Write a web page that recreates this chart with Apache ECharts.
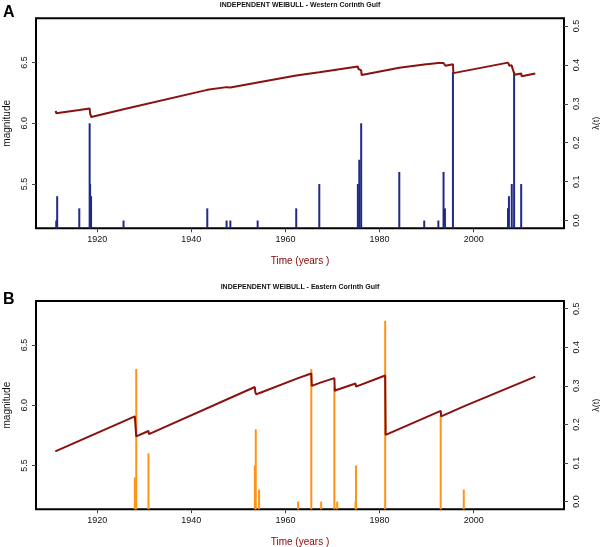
<!DOCTYPE html>
<html>
<head>
<meta charset="utf-8">
<script src="https://cdn.jsdelivr.net/npm/echarts@6/dist/echarts.min.js"></script>
<style>html,body{margin:0;padding:0;background:#fff}#c{width:600px;height:547px}</style>
</head>
<body>
<div id="c"></div>
<script>
// ---- Data ----
const xTicks = [1920, 1940, 1960, 1980, 2000];
const magTicks = [5.5, 6.0, 6.5];
const lambdaTicks = [0.0, 0.1, 0.2, 0.3, 0.4, 0.5];

// Panel A: Western Corinth Gulf
const eventYearsA = [1911.3, 1911.5, 1916.2, 1918.4, 1918.5, 1918.7, 1925.6, 1943.4, 1947.5, 1948.3, 1954.1, 1962.3, 1967.2, 1975.4, 1975.7, 1976.1, 1984.2, 1989.5, 1992.5, 1993.6, 1993.9, 1995.6, 2007.3, 2007.5, 2008.1, 2008.6, 2010.1];
const eventMagA   = [5.2, 5.4, 5.3, 6.0, 5.5, 5.4, 5.2, 5.3, 5.2, 5.2, 5.2, 5.3, 5.5, 5.5, 5.7, 6.0, 5.6, 5.2, 5.2, 5.6, 5.3, 6.42, 5.3, 5.4, 5.5, 6.42, 5.5];
const lambdaYearsA = [1911.2, 1911.3, 1911.5, 1916.2, 1916.3, 1918.4, 1918.5, 1918.7, 1918.75, 1925.6, 1925.7, 1943.4, 1943.5, 1947.5, 1947.6, 1948.3, 1948.4, 1954.1, 1954.2, 1962.3, 1962.4, 1967.2, 1967.3, 1975.4, 1975.5, 1975.7, 1975.8, 1976.1, 1976.2, 1984.2, 1984.3, 1989.5, 1989.6, 1992.5, 1992.6, 1993.6, 1993.7, 1993.9, 1994.0, 1995.6, 1995.7, 2007.3, 2007.4, 2007.5, 2007.6, 2008.1, 2008.2, 2008.6, 2008.7, 2010.1, 2010.2, 2013.1];
const lambdaValsA  = [0.282, 0.276, 0.271, 0.284, 0.281, 0.288, 0.275, 0.272, 0.266, 0.286, 0.283, 0.336, 0.331, 0.343, 0.340, 0.342, 0.339, 0.355, 0.352, 0.373, 0.368, 0.381, 0.376, 0.396, 0.390, 0.391, 0.385, 0.386, 0.374, 0.393, 0.389, 0.401, 0.398, 0.405, 0.402, 0.405, 0.400, 0.400, 0.398, 0.402, 0.379, 0.406, 0.402, 0.402, 0.398, 0.399, 0.393, 0.394, 0.375, 0.378, 0.371, 0.378];

// Panel B: Eastern Corinth Gulf
const eventYearsB = [1928.0, 1928.3, 1930.9, 1953.5, 1953.7, 1954.4, 1962.7, 1965.5, 1967.6, 1970.4, 1971.0, 1974.9, 1975.0, 1981.2, 1993.0, 1997.9];
const eventMagB   = [5.4, 6.3, 5.6, 5.5, 5.8, 5.3, 5.2, 6.3, 5.2, 6.15, 5.2, 5.2, 5.5, 6.7, 5.92, 5.3];
const lambdaYearsB = [1911.1, 1928.0, 1928.3, 1930.9, 1931.0, 1953.5, 1953.6, 1953.7, 1953.8, 1954.4, 1954.5, 1962.7, 1962.8, 1965.5, 1965.6, 1967.6, 1967.7, 1970.4, 1970.5, 1971.0, 1971.1, 1974.9, 1975.0, 1975.05, 1981.2, 1981.3, 1993.0, 1993.1, 1997.9, 1998.0, 2013.1];
const lambdaValsB  = [0.130, 0.221, 0.169, 0.183, 0.175, 0.297, 0.284, 0.285, 0.278, 0.281, 0.276, 0.320, 0.317, 0.332, 0.300, 0.309, 0.305, 0.320, 0.287, 0.290, 0.285, 0.306, 0.298, 0.293, 0.327, 0.173, 0.235, 0.221, 0.247, 0.242, 0.324];

const titleA = 'INDEPENDENT WEIBULL - Western Corinth Gulf';
const titleB = 'INDEPENDENT WEIBULL - Eastern Corinth Gulf';

// ---- Build ----
const FONT = 'Liberation Sans';
const zip = (xs, ys) => xs.map((x, i) => [x, ys[i]]);

function xAxisFor(gi) {
  return {
    type: 'value', gridIndex: gi, min: 1907.0, max: 2019.2,
    name: 'Time (years )', nameLocation: 'middle', nameGap: 28,
    nameTextStyle: { color: '#8b0000', fontSize: 10, fontFamily: FONT },
    axisLine: { show: false, onZero: false },
    axisTick: { show: true, length: 4, lineStyle: { color: '#444' }, customValues: xTicks },
    axisLabel: { show: true, color: '#111', fontSize: 9, fontFamily: FONT, margin: 7, customValues: xTicks, formatter: v => String(v) },
    splitLine: { show: false }
  };
}
function magAxisFor(gi) {
  return {
    type: 'value', gridIndex: gi, position: 'left', min: 5.136, max: 6.864,
    name: 'magnitude', nameLocation: 'middle', nameGap: 23, nameRotate: 90,
    nameTextStyle: { color: '#111', fontSize: 10, fontFamily: FONT },
    axisLine: { show: false, onZero: false },
    axisTick: { show: true, length: 4, lineStyle: { color: '#444' }, customValues: magTicks },
    axisLabel: { show: true, rotate: 90, color: '#111', fontSize: 9, fontFamily: FONT, margin: 7, customValues: magTicks, formatter: v => v.toFixed(1) },
    splitLine: { show: false }
  };
}
function lamAxisFor(gi) {
  return {
    type: 'value', gridIndex: gi, position: 'right', min: -0.02, max: 0.52,
    name: 'λ(t)', nameLocation: 'middle', nameGap: 28, nameRotate: 90,
    nameTextStyle: { color: '#111', fontSize: 9, fontFamily: FONT },
    axisLine: { show: false, onZero: false },
    axisTick: { show: true, length: 4, lineStyle: { color: '#444' }, customValues: lambdaTicks },
    axisLabel: { show: true, rotate: 90, color: '#111', fontSize: 9, fontFamily: FONT, margin: 8, customValues: lambdaTicks, formatter: v => v.toFixed(1) },
    splitLine: { show: false }
  };
}

const chart = echarts.init(document.getElementById('c'), null, { renderer: 'canvas' });
chart.setOption({
  animation: false,
  backgroundColor: '#fff',
  title: [
    { text: titleA, left: 'center', top: 2, padding: 0, textStyle: { fontSize: 7, fontWeight: 'bold', fontFamily: FONT, color: '#111' } },
    { text: titleB, left: 'center', top: 284, padding: 0, textStyle: { fontSize: 7, fontWeight: 'bold', fontFamily: FONT, color: '#111' } },
    { text: 'A', left: 3, top: 5, padding: 0, textStyle: { fontSize: 16, fontWeight: 'bold', fontFamily: FONT, color: '#000' } },
    { text: 'B', left: 3, top: 292, padding: 0, textStyle: { fontSize: 16, fontWeight: 'bold', fontFamily: FONT, color: '#000' } }
  ],
  grid: [
    { left: 36, top: 18.3, width: 528, height: 210, show: true, borderColor: '#000', borderWidth: 2, backgroundColor: 'transparent', outerBoundsMode: 'none', containLabel: false },
    { left: 36, top: 301, width: 528, height: 208.3, show: true, borderColor: '#000', borderWidth: 2, backgroundColor: 'transparent', outerBoundsMode: 'none', containLabel: false }
  ],
  xAxis: [xAxisFor(0), xAxisFor(1)],
  yAxis: [magAxisFor(0), lamAxisFor(0), magAxisFor(1), lamAxisFor(1)],
  series: [
    { type: 'bar', xAxisIndex: 0, yAxisIndex: 0, data: zip(eventYearsA, eventMagA), barWidth: 2, clip: true,
      itemStyle: { color: '#1f2a85' }, silent: true },
    { type: 'line', xAxisIndex: 0, yAxisIndex: 1, data: zip(lambdaYearsA, lambdaValsA), showSymbol: false,
      lineStyle: { color: '#8b1010', width: 2 }, silent: true, z: 5 },
    { type: 'bar', xAxisIndex: 1, yAxisIndex: 2, data: zip(eventYearsB, eventMagB), barWidth: 2, clip: true,
      itemStyle: { color: '#ff9414' }, silent: true },
    { type: 'line', xAxisIndex: 1, yAxisIndex: 3, data: zip(lambdaYearsB, lambdaValsB), showSymbol: false,
      lineStyle: { color: '#8b1010', width: 2 }, silent: true, z: 5 }
  ]
});
</script>
</body>
</html>
